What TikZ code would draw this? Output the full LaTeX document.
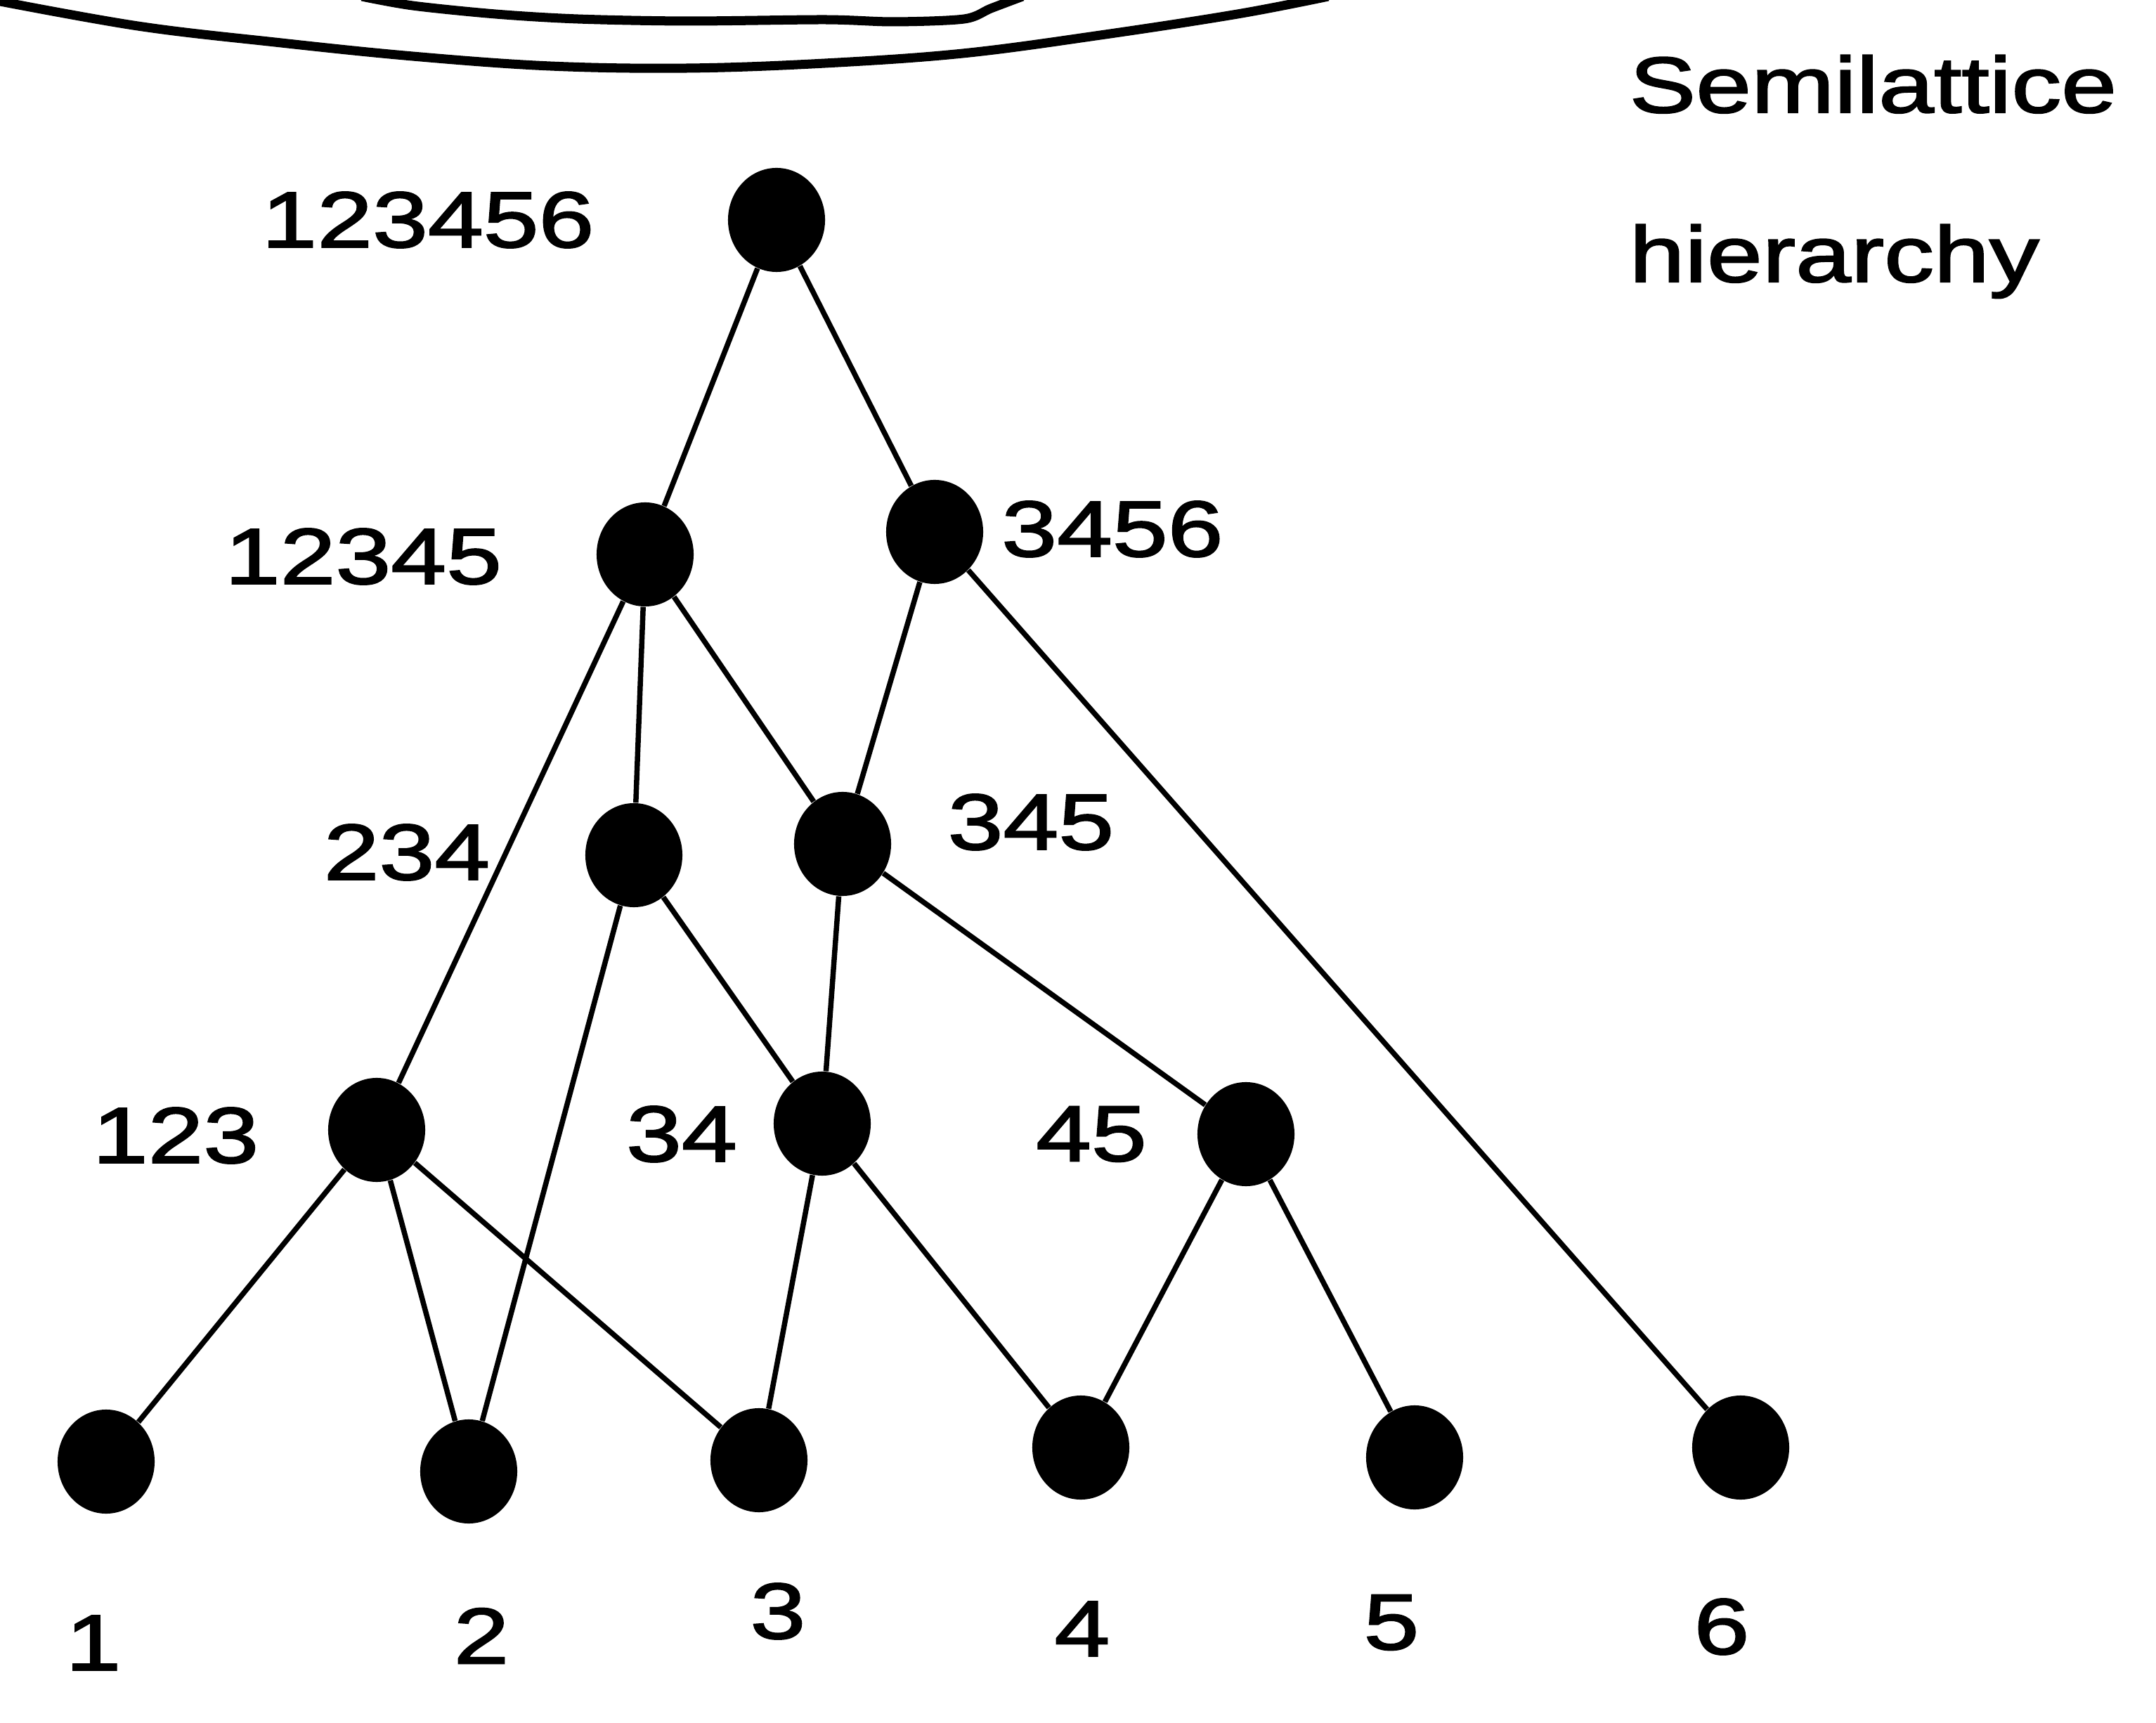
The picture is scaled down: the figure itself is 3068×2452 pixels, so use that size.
\documentclass[tikz,border=0pt]{standalone}
\usepackage{fontspec}
\usetikzlibrary{shapes.geometric}
\newfontfamily\labfont[FakeStretch=1.26, FakeBold=2]{Liberation Sans}
\tikzset{
  dot/.style={ellipse, fill=black, draw=none, inner sep=0pt,
              minimum width=1.38cm, minimum height=1.48cm},
  lab/.style={font=\labfont\fontsize{32}{38}\selectfont, inner sep=0pt},
  link/.style={line width=0.075cm, black},
  rim/.style={line width=0.13cm, black, line join=round}
}
\begin{document}
\begin{tikzpicture}[x=0.01cm, y=-0.01cm]
\useasboundingbox (0,0) rectangle (3068,2452);

% arcs of the enclosing figure, cut off at the top edge
\draw[rim] plot[smooth, tension=0.6] coordinates
  {(-10,0) (196,37) (391,60) (587,80) (783,94) (978,97) (1174,90) (1370,76) (1566,50) (1761,20) (1890,-5)};
\draw[rim] plot[smooth, tension=0.5] coordinates
  {(515,-5) (587,8) (705,20) (822,27) (978,30) (1174,28) (1272,31) (1372,27) (1410,12) (1455,-5)};

% lattice vertices
\node[dot] (n123456) at (1105,313) {};
\node[dot] (n12345)  at (918,789)  {};
\node[dot] (n3456)   at (1330,757) {};
\node[dot] (n234)    at (902,1217) {};
\node[dot] (n345)    at (1199,1201) {};
\node[dot] (n123)    at (536,1608) {};
\node[dot] (n34)     at (1170,1599) {};
\node[dot] (n45)     at (1773,1614) {};
\node[dot] (n1) at (151,2080)  {};
\node[dot] (n2) at (667,2094)  {};
\node[dot] (n3) at (1080,2078) {};
\node[dot] (n4) at (1538,2060) {};
\node[dot] (n5) at (2013,2074) {};
\node[dot] (n6) at (2477,2060) {};

% vertex labels
\node[lab] (t123456) at (609,313)  {123456};
\node[lab] (t12345)  at (517,792)  {12345};
\node[lab] (t3456)   at (1583,753) {3456};
\node[lab] (t234)    at (579,1213) {234};
\node[lab] (t345)    at (1467,1170) {345};
\node[lab] (t123)    at (250,1616) {123};
\node[lab] (t34)     at (970,1614) {34};
\node[lab] (t45)     at (1553,1614) {45};
\node[lab] (t1) at (133,2338)  {1};
\node[lab] (t2) at (685,2328)  {2};
\node[lab] (t3) at (1107,2293) {3};
\node[lab] (t4) at (1540,2318) {4};
\node[lab] (t5) at (1980,2309) {5};
\node[lab] (t6) at (2450,2315) {6};

% title
\node[lab, anchor=base west] (title1) at (2318,160) {Semilattice};
\node[lab, anchor=base west] (title2) at (2318,401) {hierarchy};

% edges of the semilattice
\draw[link] (n123456) -- (n12345);
\draw[link] (n123456) -- (n3456);
\draw[link] (n12345) -- (n123);
\draw[link] (n12345) -- (n234);
\draw[link] (n12345) -- (n345);
\draw[link] (n3456) -- (n345);
\draw[link] (n3456) -- (n6);
\draw[link] (n234) -- (n2);
\draw[link] (n234) -- (n34);
\draw[link] (n345) -- (n34);
\draw[link] (n345) -- (n45);
\draw[link] (n123) -- (n1);
\draw[link] (n123) -- (n2);
\draw[link] (n123) -- (n3);
\draw[link] (n34) -- (n3);
\draw[link] (n34) -- (n4);
\draw[link] (n45) -- (n4);
\draw[link] (n45) -- (n5);
\end{tikzpicture}
\end{document}
